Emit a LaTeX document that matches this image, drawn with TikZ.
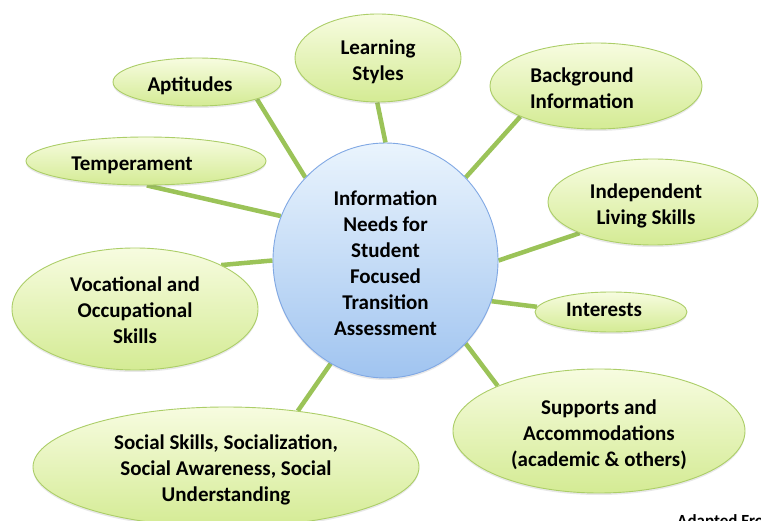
\documentclass[tikz,border=0pt]{standalone}
\usepackage{fontspec}
\setmainfont{Carlito}
\usetikzlibrary{shapes.geometric,backgrounds,shadows}

\definecolor{leafTop}{RGB}{247,252,224}
\definecolor{leafBot}{RGB}{212,235,148}
\definecolor{leafEdge}{RGB}{172,206,104}
\definecolor{hubTop}{RGB}{234,244,253}
\definecolor{hubBot}{RGB}{160,196,240}
\definecolor{hubEdge}{RGB}{128,168,228}
\definecolor{spoke}{RGB}{155,195,88}

\tikzset{
  bubble/.style={ellipse, draw=leafEdge, line width=0.9pt, inner sep=0pt,
    top color=leafTop, bottom color=leafBot,
    drop shadow={shadow xshift=0pt, shadow yshift=-2pt, opacity=0.18}},
  hubnode/.style={ellipse, draw=hubEdge, line width=0.9pt, inner sep=0pt,
    top color=hubTop, bottom color=hubBot,
    drop shadow={shadow xshift=0pt, shadow yshift=-2pt, opacity=0.18}},
  caption/.style={align=center, inner sep=0pt,
    font=\fontsize{21}{26}\selectfont\bfseries},
  link/.style={draw=spoke, line width=4.5pt}
}

\begin{document}
\begin{tikzpicture}[x=1pt, y=-1pt]
\useasboundingbox (0,0) rectangle (761,521);
\clip (0,0) rectangle (761,521);

% central topic
\node[hubnode, minimum width=225pt, minimum height=235pt] (hub) at (385.5,260.5) {};

% surrounding topics
\node[bubble, minimum width=166pt, minimum height=88pt]  (ls)   at (378,58)  {};
\node[bubble, minimum width=168pt, minimum height=48pt]  (apt)  at (197,82)  {};
\node[bubble, minimum width=212pt, minimum height=86pt]  (bg)   at (596,86)  {};
\node[bubble, minimum width=240pt, minimum height=48pt]  (temp) at (146,161) {};
\node[bubble, minimum width=210pt, minimum height=86pt]  (ind)  at (653,202) {};
\node[bubble, minimum width=246pt, minimum height=122pt] (voc)  at (135,309) {};
\node[bubble, minimum width=152pt, minimum height=40pt]  (int)  at (611,312) {};
\node[bubble, minimum width=292pt, minimum height=124pt] (sup)  at (599,431) {};
\node[bubble, minimum width=386pt, minimum height=120pt] (soc)  at (226,467) {};

% captions inside the shapes
\node[caption] (hubT)  at ([shift={(0,3)}]hub.center)
  {Information\\Needs for\\Student\\Focused\\Transition\\Assessment};
\node[caption] (lsT)   at ([shift={(0,4)}]ls.center)    {Learning\\Styles};
\node[caption] (aptT)  at ([shift={(-7,4)}]apt.center)  {Aptitudes};
\node[caption] (bgT)   at ([shift={(-14,2)}]bg.center)  {Background\\Information};
\node[caption] (tempT) at ([shift={(-14,4)}]temp.center) {Temperament};
\node[caption] (indT)  at ([shift={(-7,4)}]ind.center)  {Independent\\Living Skills};
\node[caption] (vocT)  at ([shift={(0,1)}]voc.center)   {Vocational and\\Occupational\\Skills};
\node[caption] (intT)  at ([shift={(-7,-2)}]int.center) {Interests};
\node[caption] (supT)  at ([shift={(0,4)}]sup.center)   {Supports and\\Accommodations\\(academic \& others)};
\node[caption] (socT)  at ([shift={(0,3)}]soc.center)
  {Social Skills, Socialization,\\Social Awareness, Social\\Understanding};

% source note, running off the page edge
\node[anchor=base west, inner sep=0pt, font=\fontsize{17}{20}\selectfont\bfseries] (src) at (677,526) {Adapted From};

% page background and spokes, behind the bubbles
\begin{pgfonlayer}{background}
\fill[white] (0,0) rectangle (761,521);
\draw[link] (hub.90.7) -- (ls.-91);
\draw[link] (hub.134.3) -- (apt.-16.7);
\draw[link] (hub.46.1) -- (bg.202.8);
\draw[link] (hub.157.2) -- (temp.-88);
\draw[link] (hub.-0.8) -- (ind.203);
\draw[link] (hub.180.8) -- (voc.27.3);
\draw[link] (hub.-21.1) -- (int.176);
\draw[link] (hub.-46.7) -- (sup.156.7);
\draw[link] (hub.242.7) -- (soc.38);
\end{pgfonlayer}
\end{tikzpicture}
\end{document}
